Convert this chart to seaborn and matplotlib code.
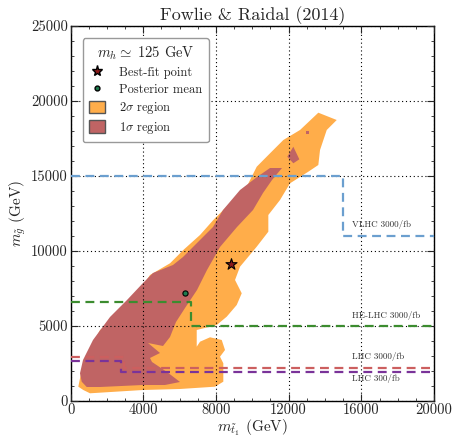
import numpy as np
import pandas as pd
import seaborn as sns
import matplotlib
matplotlib.use("Agg")
import matplotlib.pyplot as plt
from matplotlib.lines import Line2D
from matplotlib.patches import Patch

# ---------------- data ----------------
# 2 sigma credible region outline (m_stop, m_gluino) in GeV
sig2_x = [424, 699, 1068, 3985, 6021, 7948, 8405, 8405, 8223, 8498, 8317, 7673, 7123, 6941,
          6941, 8042, 8592, 9142, 9418, 9049, 9324, 10243, 10882, 10882, 11525, 12076, 13083,
          13633, 13727, 14096, 14646, 13633, 12626, 11707, 10975, 10243, 9693, 8773, 7854,
          7122, 6203, 5471, 4370, 3820, 3088, 2350, 1618, 1068, 611]
sig2_y = [953, 733, 513, 733, 800, 953, 1287, 2513, 2953, 3400, 4067, 4247, 3953, 3620,
          4733, 5067, 5620, 6400, 7180, 8067, 8953, 10287, 11287, 12400, 13400, 14513, 15287,
          15733, 16733, 18067, 18733, 19220, 18067, 17400, 16513, 15620, 14287, 13180, 12067,
          11067, 10067, 9180, 8400, 7400, 6287, 5400, 4733, 3400, 2067]

# 1 sigma credible region outline
sig1_x = [517, 611, 886, 1618, 3985, 5196, 6021, 5306, 4480, 4370, 4921, 4260, 5086, 5471,
          5801, 6297, 6957, 7507, 8223, 9158, 10039, 10589, 11084, 11634, 10975, 10259, 9324,
          8388, 7838, 6957, 6187, 5636, 4535, 3985, 3104, 2169, 1233, 683]
sig1_y = [1847, 1287, 933, 933, 1067, 1067, 1267, 1933, 2600, 2867, 3200, 3867, 3667, 4267,
          5267, 6200, 7400, 8733, 10267, 11600, 12733, 13867, 14733, 15533, 15533, 14933, 14067,
          12733, 11600, 10533, 9600, 9067, 8533, 7867, 6733, 5600, 4067, 2733]

# small isolated 1 sigma islands
isl1_x = [12257, 12588, 12257, 11927]
isl1_y = [16953, 16113, 15847, 16287]
isl2_x = [12930, 13130, 13130, 12930]
isl2_y = [17780, 17780, 18000, 18000]

# best fit and posterior mean
best_fit = (8830, 9130)
post_mean = (6270, 7200)

# collider reach contours (step lines)
reach = {
    "VLHC 3000/fb":   ([0, 15000, 15000, 20000], [15000, 15000, 11000, 11000]),
    "HE-LHC 3000/fb": ([0, 6600, 6600, 20000], [6600, 6600, 5000, 5000]),
    "LHC 3000/fb":    ([0, 2950, 2950, 20000], [2950, 2950, 2200, 2200]),
    "LHC 300/fb":     ([0, 2750, 2750, 20000], [2650, 2650, 1900, 1900]),
}
reach_colors = {
    "VLHC 3000/fb": "#6b9fcf",
    "HE-LHC 3000/fb": "#3c8c2f",
    "LHC 3000/fb": "#cc5f5f",
    "LHC 300/fb": "#7a3399",
}
reach_label_pos = {
    "VLHC 3000/fb": (15500, 11600),
    "HE-LHC 3000/fb": (15500, 5500),
    "LHC 3000/fb": (15500, 2780),
    "LHC 300/fb": (15500, 1300),
}

x_ticks = [0, 4000, 8000, 12000, 16000, 20000]
y_ticks = [0, 5000, 10000, 15000, 20000, 25000]

# ---------------- style ----------------
sns.set_style("ticks")
plt.rcParams.update({
    "font.family": "serif",
    "font.serif": ["cmr10", "DejaVu Serif"],
    "mathtext.fontset": "cm",
    "axes.formatter.use_mathtext": True,
    "axes.unicode_minus": False,
    "xtick.direction": "in",
    "ytick.direction": "in",
    "xtick.top": True,
    "ytick.right": True,
})

col2 = "#ffad4a"
col1 = "#c06464"

fig = plt.figure(figsize=(4.54, 4.37), dpi=100)
ax = fig.add_axes([0.1555, 0.0824, 0.8005, 0.8581])

ax.fill(sig2_x, sig2_y, color=col2, lw=0, zorder=1)
ax.fill(sig1_x, sig1_y, color=col1, lw=0, zorder=2)
ax.fill(isl1_x, isl1_y, color=col1, lw=0, zorder=2)
ax.fill(isl2_x, isl2_y, color=col1, lw=0, zorder=2)

for name, (xs, ys) in reach.items():
    df = pd.DataFrame({"x": xs, "y": ys})
    sns.lineplot(data=df, x="x", y="y", sort=False, estimator=None,
                 ax=ax, color=reach_colors[name], lw=1.6,
                 linestyle=(0, (4, 2.5)), zorder=4, legend=False)
    lx, ly = reach_label_pos[name]
    ax.text(lx, ly, name, fontsize=6.5, color="#333333", zorder=5)

sns.scatterplot(x=[best_fit[0]], y=[best_fit[1]], marker="*", s=70, color="#8b1a1a",
                edgecolor="black", linewidth=0.8, ax=ax, zorder=6)
sns.scatterplot(x=[post_mean[0]], y=[post_mean[1]], marker="o", s=14, color="#1d7a4d",
                edgecolor="black", linewidth=0.8, ax=ax, zorder=6)

ax.set_xlim(0, 20000)
ax.set_ylim(0, 25000)
ax.set_xticks(x_ticks)
ax.set_yticks(y_ticks)
ax.set_xticklabels([str(t) for t in x_ticks])
ax.set_yticklabels([str(t) for t in y_ticks])
ax.xaxis.set_minor_locator(matplotlib.ticker.MultipleLocator(1000))
ax.yaxis.set_minor_locator(matplotlib.ticker.MultipleLocator(1000))
ax.tick_params(which="major", length=5, width=0.8, labelsize=10.5, pad=2)
ax.tick_params(which="minor", length=2.5, width=0.6)
ax.grid(True, which="major", color="black", linestyle=(0, (1, 2.5)), linewidth=0.8, zorder=3)
ax.set_axisbelow(False)
for s in ax.spines.values():
    s.set_linewidth(1.0)
    s.set_color("black")

ax.set_xlabel(r"$m_{\tilde{t}_1}$ (GeV)", fontsize=11, labelpad=0)
ax.set_ylabel(r"$m_{\tilde{g}}$ (GeV)", fontsize=11, labelpad=2)
ax.set_title("Fowlie & Raidal (2014)", fontsize=13, pad=4)

handles = [
    Line2D([], [], marker="*", color="none", markerfacecolor="#8b1a1a",
           markeredgecolor="black", markersize=8, label="Best-fit point"),
    Line2D([], [], marker="o", color="none", markerfacecolor="#1d7a4d",
           markeredgecolor="black", markersize=3.5, label="Posterior mean"),
    Patch(facecolor=col2, edgecolor="#555555", label=r"2$\sigma$ region"),
    Patch(facecolor=col1, edgecolor="#555555", label=r"1$\sigma$ region"),
]
leg = ax.legend(handles=handles, loc="upper left", bbox_to_anchor=(0.034, 0.968),
                borderaxespad=0,
                title=r"$m_h \simeq\ 125$ GeV", title_fontsize=10.5, fontsize=9,
                frameon=True, fancybox=True, framealpha=1, edgecolor="#999999",
                handlelength=1.3, handleheight=1.2, labelspacing=0.3, borderpad=0.5,
                handletextpad=1.1)
leg.set_zorder(10)

fig.savefig("out.png", dpi=100)
